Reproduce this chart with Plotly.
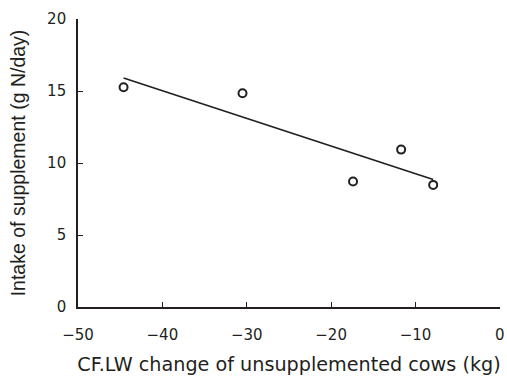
import numpy as np
import plotly.graph_objects as go

# Data
lw_change = [-44.6, -30.5, -17.4, -11.7, -7.9]
intake = [15.26, 14.84, 8.71, 10.93, 8.48]
x_ticks = [-50, -40, -30, -20, -10, 0]
x_tick_text = ["\u221250", "\u221240", "\u221230", "\u221220", "\u221210", "0"]
y_ticks = [0, 5, 10, 15, 20]

slope, intercept = np.polyfit(lw_change, intake, 1)
fit_x = [min(lw_change), max(lw_change)]
fit_y = [slope * v + intercept for v in fit_x]

INK = "#231f20"
WIDE = "DejaVu Sans, Verdana, sans-serif"
NARROW = "Liberation Sans, Arial, sans-serif"

fig = go.Figure()
fig.add_trace(go.Scatter(x=fit_x, y=fit_y, mode="lines",
                         line=dict(color=INK, width=1.7), showlegend=False))
fig.add_trace(go.Scatter(x=lw_change, y=intake, mode="markers",
                         marker=dict(symbol="circle-open", size=8,
                                     color=INK, line=dict(width=2, color=INK)),
                         showlegend=False, cliponaxis=False))

fig.update_layout(
    width=507, height=382,
    margin=dict(l=78, r=7, t=19, b=75),
    paper_bgcolor="white", plot_bgcolor="white",
    font=dict(size=15, family=WIDE, color=INK),
    showlegend=False,
)
fig.update_xaxes(
    range=[-50, 0.02], tickvals=x_ticks, ticktext=x_tick_text,
    showgrid=False, zeroline=False, showline=True, linecolor=INK, linewidth=1.6,
    ticks="inside", ticklen=5, tickwidth=1.3, tickcolor=INK,
    ticklabelstandoff=13, ticklabeloverflow="allow", automargin=False,
    tickfont=dict(family=WIDE, size=15),
    title=dict(text="CF.LW change of unsupplemented cows (kg)",
               font=dict(family=WIDE, size=19.2), standoff=15),
)
fig.update_yaxes(
    range=[0, 20], tickvals=y_ticks,
    showgrid=False, zeroline=False, showline=True, linecolor=INK, linewidth=1.6,
    ticks="inside", ticklen=5, tickwidth=1.3, tickcolor=INK,
    ticklabelstandoff=7, automargin=False,
    tickfont=dict(family=WIDE, size=15),
    title=dict(text="Intake of supplement (g N/day)",
               font=dict(family=NARROW, size=19.5), standoff=16),
)
# remove the browser's default 8px page margin so the figure fills the window
fig.write_html("out.html",
               config={"displayModeBar": False},
               post_script="document.body.style.margin='0';document.body.style.overflow='hidden';")
